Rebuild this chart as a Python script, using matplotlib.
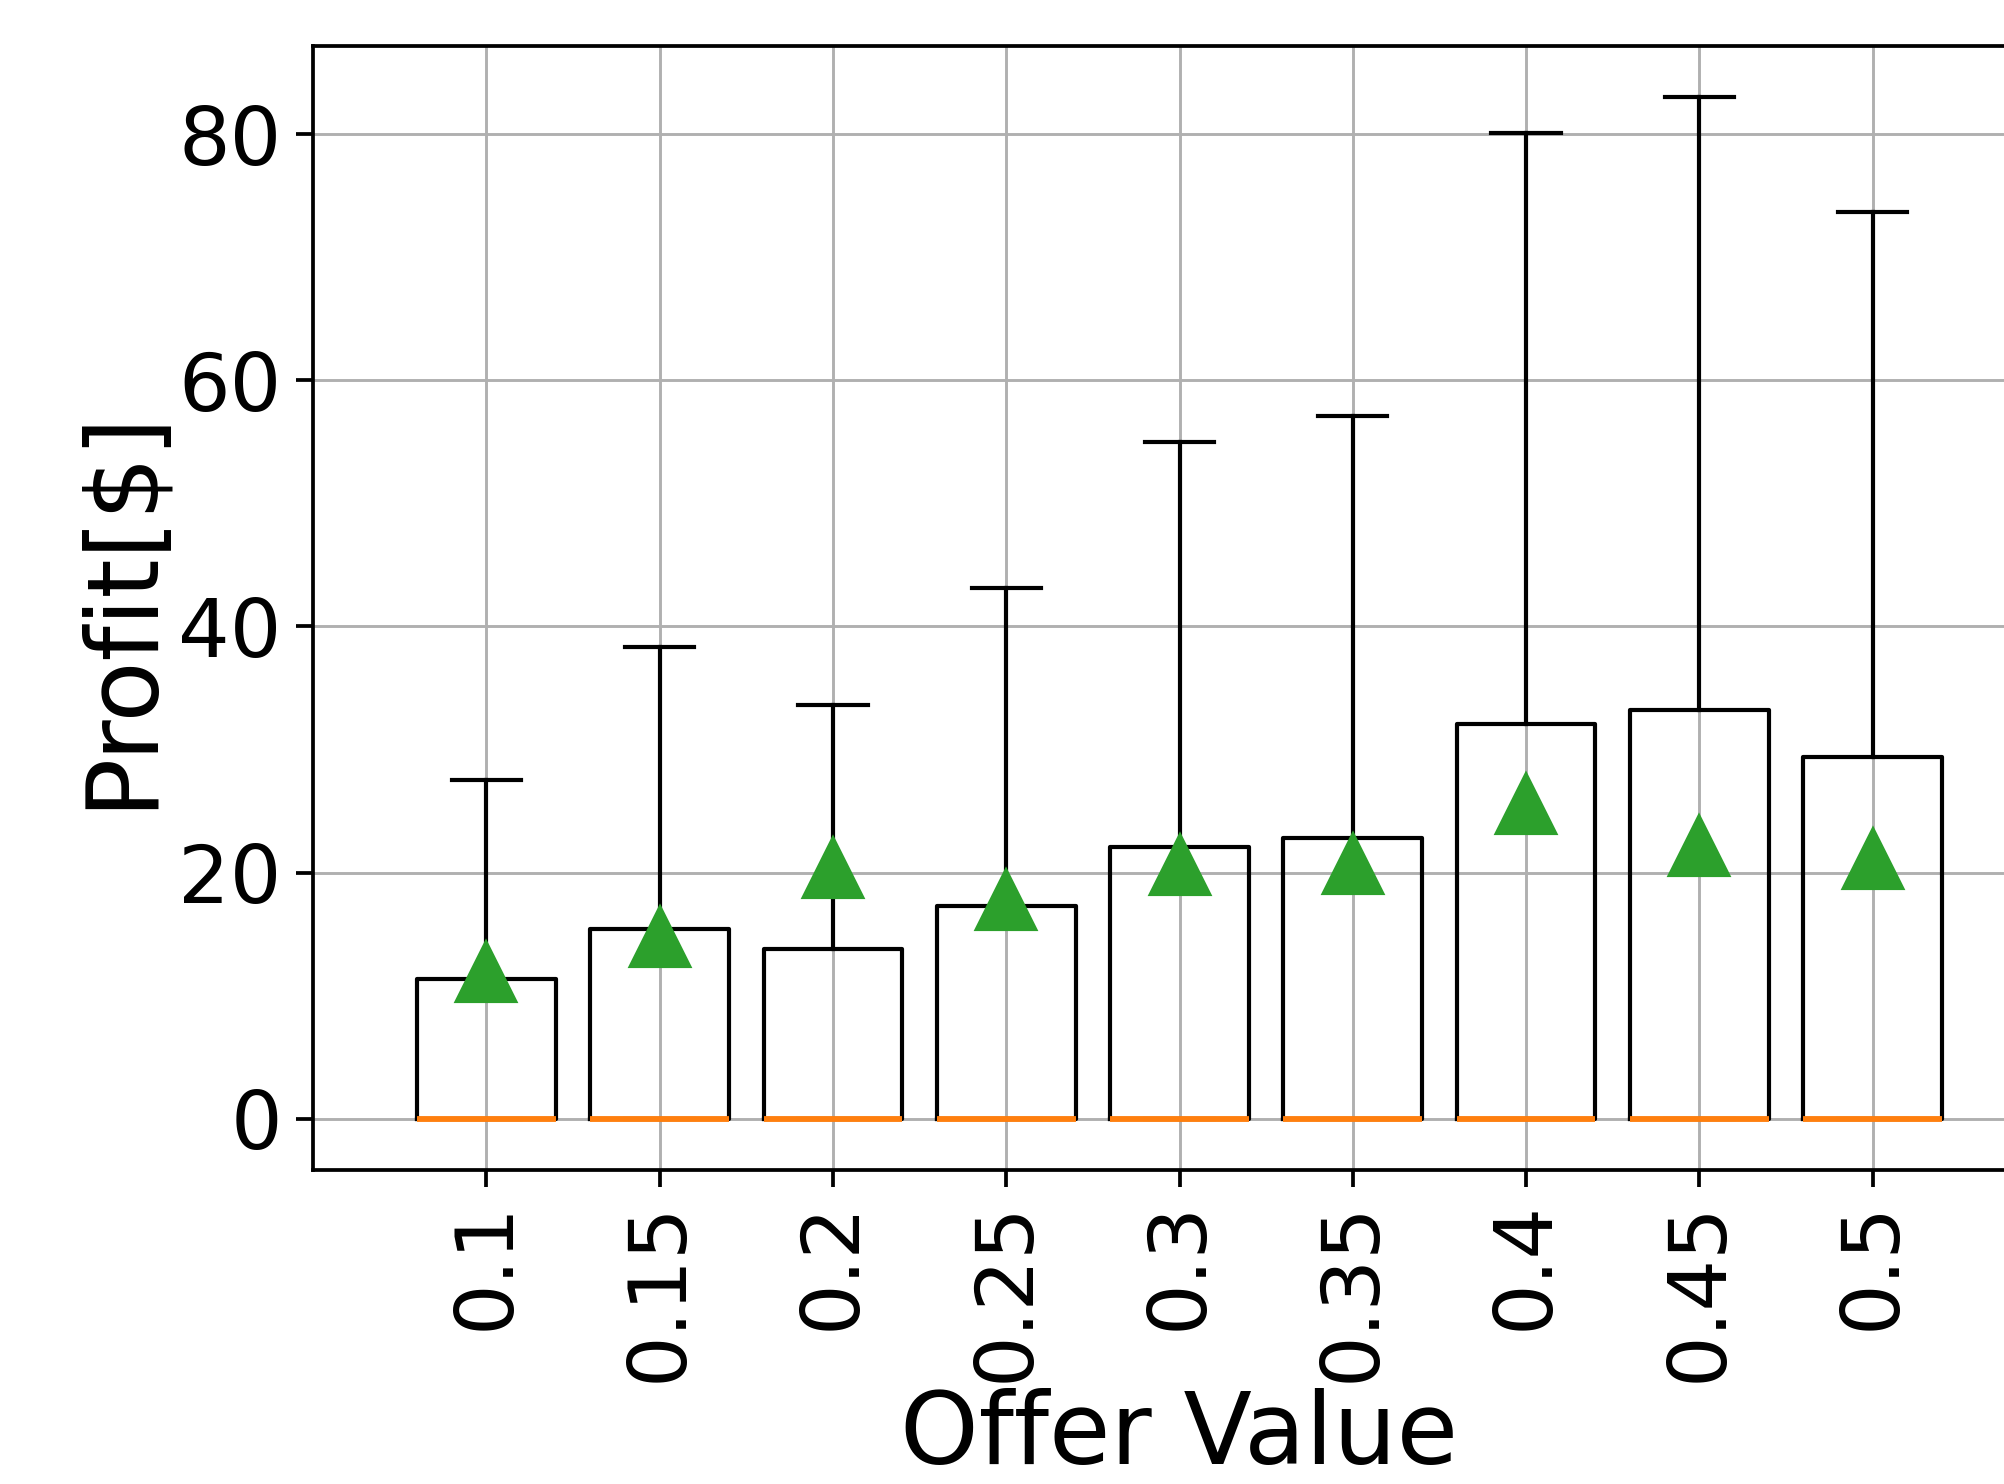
import matplotlib
matplotlib.use('Agg')
import matplotlib.pyplot as plt

# Valores
ofertas = ['0.1', '0.15', '0.2', '0.25', '0.3', '0.35', '0.4', '0.45', '0.5']
q1 = [0, 0, 0, 0, 0, 0, 0, 0, 0]
mediana = [0, 0, 0, 0, 0, 0, 0, 0, 0]
q3 = [11.4, 15.4, 13.8, 17.3, 22.1, 22.8, 32.1, 33.2, 29.4]
whis_sup = [27.5, 38.3, 33.6, 43.1, 55.0, 57.1, 80.1, 83.0, 73.7]
media = [11.9, 14.8, 20.4, 17.8, 20.6, 20.7, 25.6, 22.2, 21.1]

estatisticas = []
for i in range(len(ofertas)):
    estatisticas.append({
        'label': ofertas[i],
        'q1': q1[i],
        'med': mediana[i],
        'q3': q3[i],
        'whislo': q1[i],
        'whishi': whis_sup[i],
        'mean': media[i],
        'fliers': [],
    })

fig = plt.figure(figsize=(6.68, 4.9467), dpi=300)
# eixo um pouco mais largo que a figura (o original está cortado à direita)
ax = fig.add_axes([313 / 2004, 314 / 1484, 1733 / 2004, 1124 / 1484])

ax.bxp(estatisticas, positions=range(1, len(ofertas) + 1), widths=0.8,
       showmeans=True, showfliers=False,
       boxprops=dict(linewidth=1.0, color='black'),
       whiskerprops=dict(linewidth=1.0, color='black'),
       capprops=dict(linewidth=1.0, color='black'),
       medianprops=dict(linewidth=1.4, color='#ff7f0e'),
       meanprops=dict(marker='^', markersize=14, markerfacecolor='#2ca02c',
                      markeredgecolor='#2ca02c'))

ax.set_xlim(0, 10)
ax.set_yticks([0, 20, 40, 60, 80])
ax.tick_params(axis='both', labelsize=19.5, length=4, width=0.9)
ax.tick_params(axis='x', labelrotation=90)
for s in ax.spines.values():
    s.set_linewidth(0.9)
ax.set_xlabel('Offer Value', fontsize=24, labelpad=1.5)
ax.set_ylabel('Profit[$]', fontsize=24, labelpad=2)
ax.grid(True, color='#b0b0b0', linewidth=0.7)

fig.savefig('out.png', dpi=300)
